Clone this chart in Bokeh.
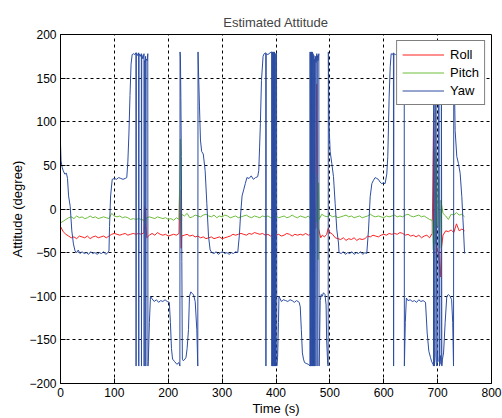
from bokeh.plotting import figure
from bokeh.models import Range1d, FixedTicker
from bokeh.embed import file_html
from bokeh.resources import INLINE

# ---- data (time in s, angle in degrees) ----
x_ticks = [0, 100, 200, 300, 400, 500, 600, 700, 800]
y_ticks = [-200, -150, -100, -50, 0, 50, 100, 150, 200]
series_names = ["Roll", "Pitch", "Yaw"]

roll_points = [
    (0, -20), (5, -26), (10, -29), (15, -31), (20, -33), (25, -32), (30, -34), (35, -31), (40, -32),
    (45, -33), (50, -31), (55, -34), (60, -32), (65, -31), (70, -33), (75, -32), (80, -31), (85, -33),
    (90, -31), (95, -29), (100, -28), (105, -29), (110, -30), (115, -29), (120, -28), (125, -30),
    (130, -29), (135, -28), (140, -29), (145, -28), (150, -29), (155, -27), (156, 3), (157, -23),
    (158, 1), (159, -20), (160, -33), (165, -30), (170, -28), (175, -30), (180, -27), (185, -29),
    (190, -30), (195, -29), (200, -31), (205, -30), (210, -29), (215, -30), (220, -28), (221, 20),
    (222, 22), (223, -25), (224, -45), (225, -31), (230, -30), (235, -29), (240, -31), (245, -30),
    (250, -32), (255, -31), (260, -33), (265, -32), (270, -34), (275, -33), (280, -32), (285, -34),
    (290, -33), (295, -32), (300, -34), (305, -33), (310, -32), (315, -31), (320, -29), (325, -30),
    (330, -29), (335, -28), (340, -29), (345, -30), (350, -28), (355, -29), (360, -27), (365, -28),
    (370, -29), (375, -28), (380, -30), (385, -29), (390, -31), (395, -29), (400, -30), (405, -29),
    (410, -31), (415, -30), (420, -28), (425, -29), (430, -31), (435, -29), (440, -30), (445, -29),
    (450, -30), (455, -28), (460, -30), (465, -29), (467, -14), (470, -20), (474, -22), (475.5, 143),
    (476.5, 45), (477.5, -20), (480, -25), (483, -33), (486, -30), (490, -32), (494, -29), (497, -22),
    (500, -27), (505, -29), (510, -33), (515, -34), (520, -35), (525, -33), (530, -36), (535, -34),
    (540, -35), (545, -33), (550, -36), (555, -34), (560, -35), (565, -34), (570, -31), (575, -32),
    (580, -30), (585, -31), (590, -32), (595, -30), (600, -29), (605, -30), (610, -28), (615, -29),
    (620, -28), (625, -29), (630, -27), (635, -28), (640, -30), (645, -29), (650, -31), (655, -30),
    (660, -32), (665, -30), (670, -33), (675, -31), (680, -30), (685, -33), (690, -28), (692.5, 110),
    (693.5, 30), (694.5, 65), (695.5, 25), (697, -35), (699, -45), (701, -50), (703, -60), (705, -78),
    (707, -45), (710, -30), (715, -25), (720, -26), (725, -24), (730, -27), (735, -17), (740, -25),
    (745, -23), (750, -25),
]

pitch_points = [
    (0, -16), (5, -14), (10, -12), (15, -10), (20, -9), (25, -11), (30, -8), (35, -10), (40, -9),
    (45, -11), (50, -10), (55, -8), (60, -10), (65, -9), (70, -11), (75, -10), (80, -9), (85, -10),
    (90, -11), (95, -5), (100, -8), (105, -9), (110, -8), (115, -10), (120, -9), (125, -10),
    (130, -12), (135, -11), (140, -12), (145, -11), (150, -12), (155, -13), (157, -18), (160, -10),
    (165, -9), (170, -10), (175, -11), (180, -9), (185, -10), (190, -11), (195, -10), (200, -12),
    (205, -11), (210, -13), (215, -10), (220, -12), (222.5, 80), (223.2, 25), (224, -30), (225, -6),
    (230, -8), (235, -5), (240, -10), (245, -9), (250, -7), (255, -8), (260, -9), (265, -7), (270, -6),
    (275, -8), (280, -9), (285, -7), (290, -10), (295, -8), (300, -9), (305, -7), (310, -8), (315, -10),
    (320, -9), (325, -8), (330, -10), (335, -9), (340, -8), (345, -7), (350, -9), (355, -10), (360, -8),
    (365, -9), (370, -10), (375, -8), (380, -9), (385, -8), (390, -10), (395, -9), (400, -8), (405, -10),
    (410, -9), (415, -8), (420, -10), (425, -9), (430, -7), (435, -9), (440, -10), (445, -8), (450, -9),
    (455, -10), (460, -8), (465, -12), (467, -40), (470, -10), (475, -15), (477, 40), (478, -58),
    (479, 30), (480, -12), (485, -6), (490, -8), (495, -9), (500, -7), (505, -9), (510, -8), (515, -10),
    (520, -9), (525, -8), (530, -7), (535, -9), (540, -8), (545, -10), (550, -9), (555, -8), (560, -10),
    (565, -9), (570, -8), (575, -6), (580, -8), (585, -9), (590, -8), (595, -9), (600, -10), (605, -8),
    (610, -9), (615, -8), (620, -7), (625, -9), (630, -8), (635, -9), (640, -7), (645, -6), (650, -8),
    (655, -9), (660, -8), (665, -7), (670, -9), (675, -8), (680, -10), (685, -12), (690, -13),
    (692, -47), (694, 70), (696, -40), (698, 60), (700, -20), (702, 35), (704, -45), (706, 10),
    (710, -5), (715, -8), (720, -12), (725, -6), (730, -7), (735, -4), (740, -7), (745, -6), (750, -9),
]

yaw_points = [
    (0, 75), (1, 55), (3, 48), (5, 44), (8, 40), (11, 41), (13, 35), (15, 15), (18, 3), (21, -25),
    (24, -40), (27, -48), (30, -50), (33, -47), (36, -51), (40, -49), (44, -51), (48, -50), (52, -52),
    (56, -49), (60, -51), (64, -50), (68, -52), (72, -50), (76, -51), (80, -49), (84, -52), (88, -50),
    (90, -48), (91, -20), (93, 15), (96, 34), (100, 35), (104, 34), (108, 36), (112, 35), (116, 34),
    (120, 35), (123, 36), (125, 54), (127, 86), (129, 130), (131, 166), (133, 177), (136, 178),
    (138, 177), (140, 179), (140.3, -180), (140.8, 179), (143, 176), (145, 179), (145.3, -180),
    (145.8, 178), (148, 175), (150, 178), (150.3, -180), (150.8, 177), (153, 172), (155, 178),
    (155.3, -180), (155.8, 170), (157, 168), (158, 175), (158.3, -180), (158.8, 172), (161, 170),
    (162, 178), (162.3, -180), (163, -175), (165, -130), (167, -100), (170, -103), (174, -106),
    (178, -104), (182, -107), (186, -105), (190, -106), (194, -104), (198, -106), (202, -107),
    (204, -130), (206, -160), (208, -172), (212, -175), (216, -178), (220, -176), (221.6, -180),
    (221.9, 180), (222.6, 174), (223.4, 128), (224.3, 60), (225.2, -60), (226.2, -172), (228, -174),
    (231, -172), (233, -170), (235, -160), (237.6, -138), (239.4, -100), (242, -95), (244.5, -97),
    (246.8, -98), (250, -106), (253, -138), (254.8, -180), (255.3, 180), (256.5, 150), (258, 117),
    (259.8, 79), (262, 66), (265, 63), (268.5, 44), (271.6, 6.5), (274.7, -31), (277.8, -47),
    (281, -50), (285, -51), (289, -49), (293, -52), (297, -50), (301, -49), (305, -51), (309, -50),
    (313, -52), (317, -50), (321, -51), (325, -49), (329, -50), (332, -30), (334, -9), (337, 15),
    (340, 22), (343, 29), (346, 36), (350, 35), (354, 38), (358, 34), (362, 36), (366, 37), (368, 44),
    (369.5, 70), (371, 98), (373, 147), (376, 175), (378, 178), (381, 179), (381.3, -180),
    (381.8, 178), (385, 177), (389, 179), (392, 180), (392.3, -180), (393, 180), (393.5, -180),
    (394.3, 180), (394.8, -180), (395.6, 180), (396.1, -180), (397, 180), (397.5, -180), (398.4, 178),
    (399, -180), (399.8, 178), (401, 179), (401.5, -180), (403, -170), (404.6, -130), (405.5, -100),
    (407, -102), (410, -106), (414, -104), (418, -105), (422, -106), (426, -104), (430, -105),
    (434, -107), (438, -105), (441, -106), (443, -107), (445, -112), (447, -138), (449, -165),
    (451, -172), (453, -176), (456, -177), (460, -178), (463, -180), (463.3, 180), (464, -180),
    (464.6, 180), (465.3, -180), (466, 180), (466.7, -180), (467.4, 180), (468, -180), (468.8, 178),
    (469.5, -180), (470.3, 176), (471, -180), (471.8, 172), (472.6, -180), (473, 175), (474.5, 168),
    (475.8, 178), (476.2, -180), (476.6, 176), (478, 170), (479.5, 178), (480, -180), (481, -150),
    (482, -105), (484, -98), (486, -100), (488, -96), (491, -98), (493, -110), (494, -150),
    (496, -178), (496.8, -180), (497.2, 180), (497.4, 161), (498.6, 94), (500.5, 66), (503.6, 52),
    (506.7, 37), (509.8, 6.5), (512.9, -24), (516, -39), (517, -50), (521, -51), (525, -49),
    (529, -52), (533, -50), (537, -51), (541, -49), (545, -52), (549, -50), (553, -51), (557, -49),
    (561, -52), (565, -50), (568.5, -51), (571.7, -24), (574.8, 14), (577.9, 29), (581, 33), (584, 36),
    (587, 35), (590, 34), (593, 31), (596.4, 29), (599, 30), (602.5, 29), (605.6, 40), (607.5, 60),
    (610, 128), (612, 163), (613.8, 178), (616, 177), (618, 179), (618.3, -180), (618.8, 178),
    (622, 177), (626, 178), (630, 176), (634, 178), (638, 179), (638.3, -180), (640, -130),
    (642, -102), (645, -105), (649, -104), (653, -106), (657, -105), (661, -107), (665, -104),
    (669, -106), (673, -105), (677.5, -107), (680.6, -142), (683.7, -163), (686.7, -170), (689, -175),
    (691.6, -178), (692.3, -180), (692.6, 180), (693.5, 175), (694, -180), (695.4, -170), (695.8, 180),
    (697, 170), (698.5, -180), (699.5, -165), (700.5, -175), (701.6, 180), (702.5, 176), (703.5, -180),
    (705, -168), (706.5, -178), (707, 180), (707.8, -180), (709, -172), (711, -165), (714, -130),
    (717, -100), (720, -98), (723, -100), (726, -104), (728, -130), (729.5, -180), (730, 180),
    (731, 150), (732.5, 90), (735.6, 60), (738.7, 52), (741.8, 41), (744.9, 14), (746, 0), (748, -24),
    (750, -51),
]

colors = ["#ff2020", "#6cbd3a", "#2c4da2"]
FONT = "Liberation Sans"

p = figure(width=502, height=418, output_backend="svg", toolbar_location=None,
           x_range=Range1d(0, 800), y_range=Range1d(-200, 200),
           min_border_left=60, min_border_right=11, min_border_top=34, min_border_bottom=34,
           title="Estimated Attitude")
p.background_fill_color = "white"
p.border_fill_color = "white"
p.outline_line_color = "black"
p.outline_line_width = 1

p.title.align = "center"
p.title.text_font = FONT
p.title.text_font_size = "13px"
p.title.text_font_style = "normal"
p.title.standoff = 9

for pts, name, col in zip([roll_points, pitch_points, yaw_points], series_names, colors):
    xs = [a for a, b in pts]
    ys = [b for a, b in pts]
    p.line(xs, ys, line_color=col, line_width=1, legend_label=name)

for ax in (p.xaxis[0], p.yaxis[0]):
    ax.axis_line_color = "black"
    ax.major_tick_line_color = "black"
    ax.major_tick_in = 5
    ax.major_tick_out = 0
    ax.minor_tick_line_color = None
    ax.major_label_text_font = FONT
    ax.major_label_text_font_size = "12px"
    ax.major_label_text_color = "black"
    ax.major_label_standoff = 4
    ax.axis_label_text_font = FONT
    ax.axis_label_text_font_size = "13px"
    ax.axis_label_text_font_style = "normal"
    ax.axis_label_text_color = "black"

p.xaxis[0].ticker = FixedTicker(ticks=x_ticks)
p.yaxis[0].ticker = FixedTicker(ticks=y_ticks)

p.xaxis[0].axis_label = "Time (s)"
p.xaxis[0].axis_label_standoff = 1
p.xaxis[0].major_label_standoff = 4

p.yaxis[0].axis_label = "Attitude (degree)"
p.yaxis[0].axis_label_standoff = 1
p.yaxis[0].major_label_standoff = 4

for g in (p.xgrid[0], p.ygrid[0]):
    g.grid_line_color = "black"
    g.grid_line_dash = "3 3"
    g.grid_line_width = 1
p.xgrid[0].ticker = FixedTicker(ticks=x_ticks)
p.ygrid[0].ticker = FixedTicker(ticks=y_ticks)

lg = p.legend[0]
lg.location = "top_right"
lg.margin = 6
lg.border_line_color = "black"
lg.border_line_width = 1
lg.background_fill_color = "white"
lg.background_fill_alpha = 1
lg.label_text_font = FONT
lg.label_text_font_size = "13px"
lg.label_text_color = "black"
lg.glyph_width = 42
lg.glyph_height = 17
lg.label_height = 17
lg.label_standoff = 6
lg.spacing = 1
lg.padding = 5

open("out.html", "w").write(file_html(p, INLINE))
